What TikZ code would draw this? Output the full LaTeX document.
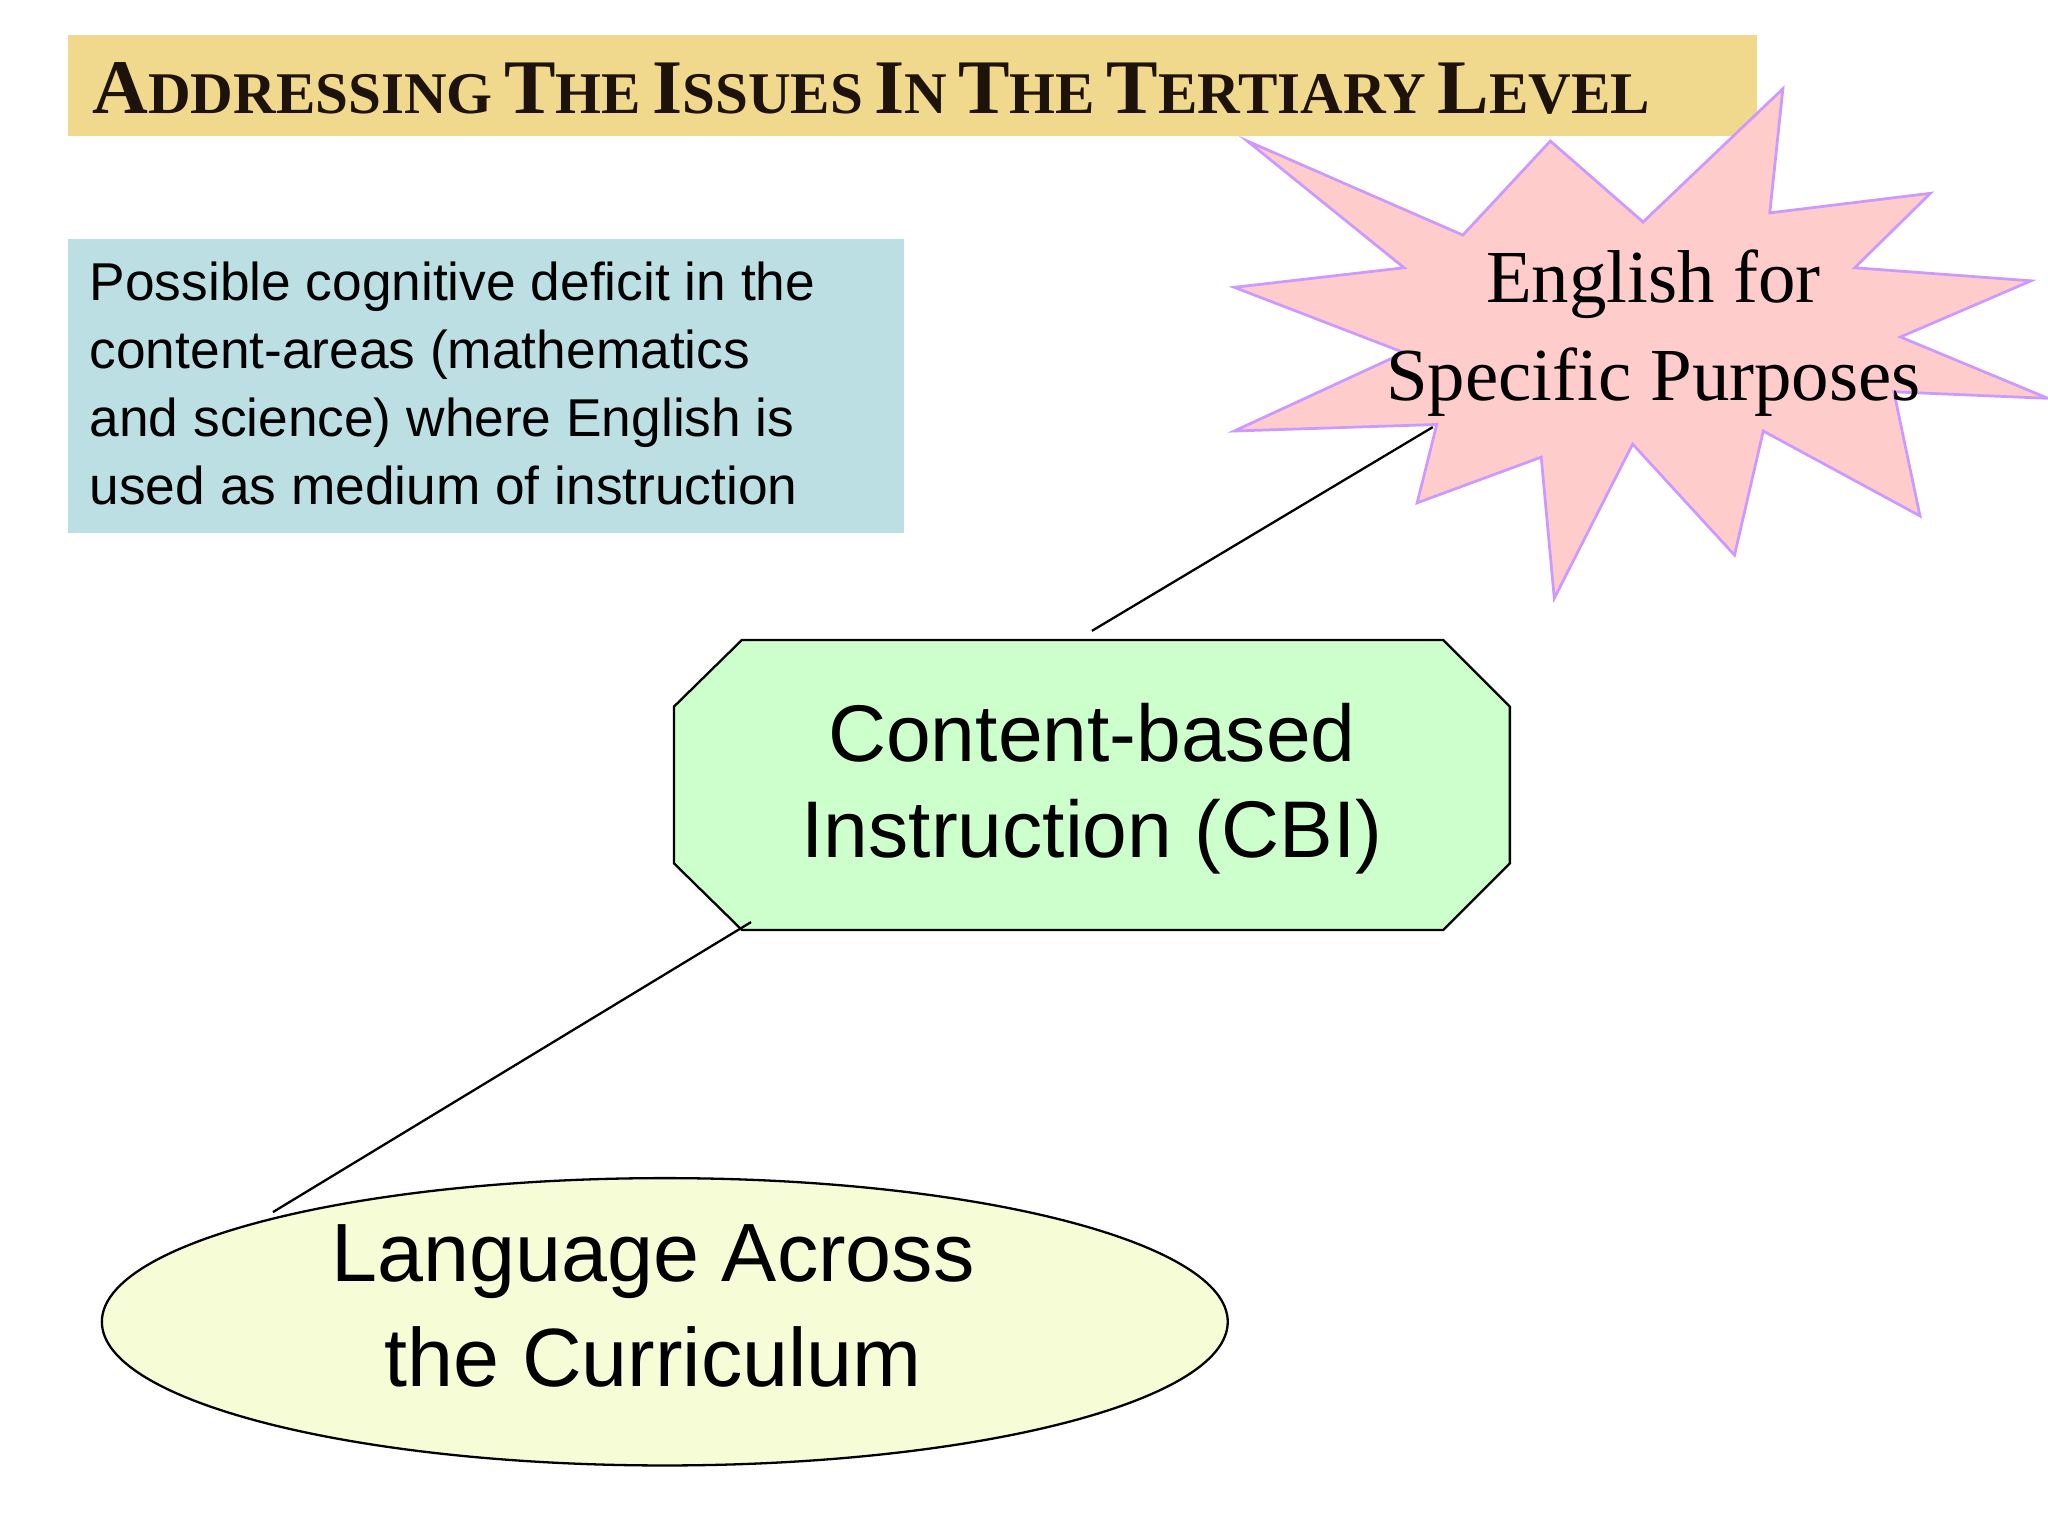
\documentclass[tikz,border=0pt]{standalone}
\usepackage{fontspec}
\setmainfont{Liberation Serif}
\setsansfont{Liberation Sans}
\usetikzlibrary{shapes.geometric}
\definecolor{titlebg}{HTML}{F0D98C}
\definecolor{bluebg}{HTML}{BCDFE3}
\definecolor{starfill}{HTML}{FFCCCC}
\definecolor{starline}{HTML}{CC99FF}
\definecolor{octfill}{HTML}{CCFFCC}
\definecolor{ellfill}{HTML}{F6FDD6}
\newcommand{\fsc}[2]{{\fontsize{17}{17}\selectfont #1}{\fontsize{13}{13}\selectfont #2}}
\begin{document}
\begin{tikzpicture}[x=0.01cm,y=-0.01cm,
  conn/.style={draw=black,line width=0.5pt}]
\useasboundingbox[fill=white] (0,0) rectangle (1568,1176);
% title
\fill[titlebg] (52,27) rectangle (1345,104);
\node[anchor=west,inner sep=0,text=black!85!brown] (title) at (70,68) {\resizebox{11.92cm}{!}{\bfseries\fsc{A}{DDRESSING} \fsc{T}{HE} \fsc{I}{SSUES} \fsc{I}{N} \fsc{T}{HE} \fsc{T}{ERTIARY} \fsc{L}{EVEL}}};
% blue box
\fill[bluebg] (52,183) rectangle (692,408);
\node[anchor=north west,align=left,inner sep=0,font=\sffamily\fontsize{11.6}{14.8}\selectfont] (deficit) at (68,200)
{Possible cognitive deficit in the\\content-areas (mathematics\\and science) where English is\\used as medium of instruction};
% star
\filldraw[fill=starfill,draw=starline,line width=0.6pt]
 (955,108) -- (1120,180) -- (1187,108) -- (1258,170) -- (1365,68) -- (1355,163)
 -- (1478,148) -- (1420,205) -- (1555,215) -- (1455,258) -- (1568,305)
 -- (1450,300) -- (1470,395) -- (1350,330) -- (1328,425) -- (1250,340)
 -- (1190,458) -- (1180,350) -- (1085,385) -- (1100,325) -- (945,330)
 -- (1075,270) -- (945,220) -- (1075,205) -- cycle;
\node[align=center,font=\fontsize{16.3}{21.5}\selectfont,inner sep=0] (esp) at (1266,255) {English for\\Specific Purposes};
% octagon
\filldraw[fill=octfill,draw=black,line width=0.5pt]
 (568,490) -- (1105,490) -- (1156,541) -- (1156,661) -- (1105,712) -- (568,712) -- (516,661) -- (516,541) -- cycle;
\node[align=center,font=\sffamily\fontsize{17.5}{21}\selectfont,inner sep=0] (cbi) at (836,604) {Content-based\\Instruction (CBI)};
% ellipse
\filldraw[fill=ellfill,draw=black,line width=0.5pt] (509,1012) ellipse [x radius=431,y radius=110];
\node[align=center,font=\sffamily\fontsize{18}{22.8}\selectfont,inner sep=0] (lac) at (500,1000) {Language Across\\the Curriculum};
% connectors
\coordinate (cbitop) at (836,483);
\coordinate (espbot) at (1097,327);
\coordinate (cbibot) at (575,706);
\coordinate (lactop) at (209,928);
\draw[conn] (cbitop) -- (espbot);
\draw[conn] (cbibot) -- (lactop);
\end{tikzpicture}
\end{document}
